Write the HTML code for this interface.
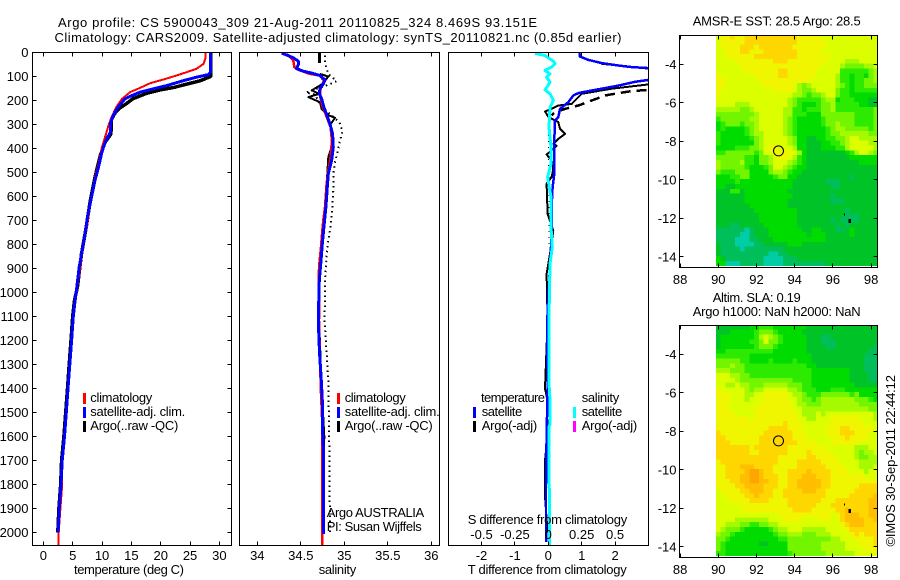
<!DOCTYPE html>
<html lang="en">
<head>
<meta charset="utf-8">
<title>Argo profile CS 5900043_309</title>
<style>
html,body{margin:0;padding:0;background:#fff;}
svg{display:block;}
text{font-family:"Liberation Sans",sans-serif;font-size:13px;fill:#000;}
.crisp{shape-rendering:crispEdges;}
</style>
</head>
<body>
<svg id="chart" xmlns="http://www.w3.org/2000/svg" width="900" height="580" viewBox="0 0 900 580">
<defs>
<clipPath id="clip-temp"><rect x="32" y="52" width="200" height="494"/></clipPath>
<clipPath id="clip-sal"><rect x="239" y="52" width="201" height="494"/></clipPath>
<clipPath id="clip-diff"><rect x="448" y="52" width="201" height="494"/></clipPath>
<clipPath id="clip-sst"><rect x="679" y="35" width="199" height="232"/></clipPath>
<clipPath id="clip-sla"><rect x="679" y="325" width="199" height="232"/></clipPath>
</defs>

<g id="sst-map" clip-path="url(#clip-sst)"></g>
<g id="sla-map" clip-path="url(#clip-sla)"></g>
<g id="temp-series" clip-path="url(#clip-temp)"></g>
<g id="sal-series" clip-path="url(#clip-sal)"></g>
<g id="diff-series" clip-path="url(#clip-diff)"></g>
<g id="axes" class="crisp"></g>
<g id="tick-labels"></g>

<text x="58" y="27" textLength="479" lengthAdjust="spacing">Argo profile: CS 5900043_309 21-Aug-2011 20110825_324 8.469S 93.151E</text>
<text x="54.5" y="42" textLength="567" lengthAdjust="spacing">Climatology: CARS2009. Satellite-adjusted climatology: synTS_20110821.nc (0.85d earlier)</text>

<text x="74" y="574" textLength="110" lengthAdjust="spacing">temperature (deg C)</text>
<text x="318.7" y="574" textLength="37.5" lengthAdjust="spacing">salinity</text>
<text x="467.7" y="574" textLength="159" lengthAdjust="spacing">T difference from climatology</text>
<text x="467.7" y="524" textLength="159.5" lengthAdjust="spacing">S difference from climatology</text>

<g>
<rect class="crisp" x="83" y="393" width="3" height="11" fill="#ff0000"/>
<rect class="crisp" x="83" y="407" width="3" height="11" fill="#0000ff"/>
<rect class="crisp" x="83" y="421" width="3" height="11" fill="#000"/>
<text x="90.3" y="402" textLength="62" lengthAdjust="spacing">climatology</text>
<text x="90.3" y="416" textLength="95" lengthAdjust="spacing">satellite-adj. clim.</text>
<text x="90.3" y="430" textLength="88" lengthAdjust="spacing">Argo(..raw -QC)</text>
</g>

<g>
<rect class="crisp" x="337" y="393" width="3" height="11" fill="#ff0000"/>
<rect class="crisp" x="337" y="407" width="3" height="11" fill="#0000ff"/>
<rect class="crisp" x="337" y="421" width="3" height="11" fill="#000"/>
<text x="344.7" y="402" textLength="61" lengthAdjust="spacing">climatology</text>
<text x="344.7" y="416" textLength="95" lengthAdjust="spacing">satellite-adj. clim.</text>
<text x="344.7" y="430" textLength="88" lengthAdjust="spacing">Argo(..raw -QC)</text>
</g>

<text x="326.7" y="517" textLength="97.5" lengthAdjust="spacing">Argo AUSTRALIA</text>
<text x="326.7" y="531" textLength="95" lengthAdjust="spacing">PI: Susan Wijffels</text>

<g>
<rect class="crisp" x="473" y="407" width="3" height="11" fill="#0000ff"/>
<rect class="crisp" x="473" y="421" width="3" height="11" fill="#000"/>
<rect class="crisp" x="573" y="407" width="3" height="11" fill="#00ffff"/>
<rect class="crisp" x="573" y="421" width="3" height="11" fill="#ff00ff"/>
<text x="481" y="402" textLength="64" lengthAdjust="spacing">temperature</text>
<text x="481.7" y="416" textLength="40.5" lengthAdjust="spacing">satellite</text>
<text x="481.7" y="430" textLength="55.5" lengthAdjust="spacing">Argo(-adj)</text>
<text x="581.7" y="402" textLength="37.5" lengthAdjust="spacing">salinity</text>
<text x="581.7" y="416" textLength="40.5" lengthAdjust="spacing">satellite</text>
<text x="581.7" y="430" textLength="55.5" lengthAdjust="spacing">Argo(-adj)</text>
</g>

<text x="692.7" y="25.5" textLength="168" lengthAdjust="spacing">AMSR-E SST: 28.5 Argo: 28.5</text>
<text x="712.7" y="302" textLength="88" lengthAdjust="spacing">Altim. SLA: 0.19</text>
<text x="692.7" y="316" textLength="168" lengthAdjust="spacing">Argo h1000: NaN h2000: NaN</text>
<text transform="translate(895 546.5) rotate(-90)" x="0" y="0" textLength="171.5" lengthAdjust="spacing">©IMOS 30-Sep-2011 22:44:12</text>
</svg>

<script>
// ---- axis ticks and labels ----
const depthTicks = [0,100,200,300,400,500,600,700,800,900,1000,1100,1200,1300,1400,1500,1600,1700,1800,1900,2000];
const tempTicks = [0,5,10,15,20,25,30];
const salinityTicks = [34,34.5,35,35.5,36];
const salinityTickLabels = ['34','34.5','35','35.5','36'];
const tDiffTicks = [-2,-1,0,1,2];
const sDiffTicks = [-0.5,-0.25,0,0.25,0.5];
const sDiffTickLabels = ['-0.5','-0.25','0','0.25','0.5'];
const lonTicks = [88,90,92,94,96,98];
const latTicks = [-4,-6,-8,-10,-12,-14];

// ---- temperature profiles (deg C vs depth m) ----
const tempClimDepth = [0,26,47,68,82,96,112,128,147,165,193,225,269,304,353,401,464,519,617,728,839,978,1033,1100,1200,1300,1400,1500,1600,1700,1800,1900,2000,2054];
const tempClimValue = [27.6,27.6,27.3,26.1,24.4,22.7,20.5,18.2,16.5,14.8,13.4,12.5,11.6,11.1,10.5,9.9,9.4,8.8,8.1,7.4,6.6,5.8,5.5,5.1,4.8,4.5,4.2,3.9,3.6,3.2,3.2,2.9,2.6,2.6];
const tempSatDepth = [0,82,92,103,117,138,151,165,179,193,225,263,297,332,374,422,478,533,603,686,756,839,894,978,1033,1100,1200,1300,1400,1500,1600,1700,1800,1900,2000];
const tempSatValue = [28.5,28.5,28.1,26.1,23.9,21,18.8,16.5,15.1,13.9,12.8,11.9,11.4,11.4,10.5,9.9,9.4,8.8,8.2,7.5,7.1,6.5,6.1,5.7,5.4,5.1,4.8,4.5,4.2,3.9,3.6,3.2,3,2.7,2.5];
const tempArgoDepth = [0,100,118,132,146,156,170,192,212,230,252,278,340,374,429,519,617,728,839,978,1033,1100,1200,1300,1400,1500,1600,1700,1800,1900,2000];
const tempArgoValue = [28.5,28.5,26.7,24.4,22.2,19.9,17.6,15.3,14.2,13.1,12.2,11.6,11.5,10.5,9.7,8.8,8,7.3,6.5,5.8,5.3,5,4.7,4.4,4.1,3.8,3.5,3.1,2.95,2.65,2.45];

// ---- salinity profiles (psu vs depth m) ----
const salClimDepth = [6,33,61,72,89,96,117,151,179,221,276,311,367,436,492,547,644,700,742,811,881,936,992,1117,1400,1547,2054];
const salClimValue = [34.337,34.414,34.425,34.471,34.605,34.72,34.766,34.728,34.72,34.747,34.805,34.843,34.858,34.843,34.816,34.797,34.778,34.759,34.747,34.732,34.713,34.705,34.713,34.709,34.73,34.747,34.747];
const salSatDepth = [3,13,22,36,50,67,78,86,96,114,131,151,172,193,228,258,297,339,394,450,506,561,644,728,783,867,950,1061,1117,1250,1367,1450,1547,1644,2006];
const salSatValue = [34.28,34.356,34.414,34.471,34.471,34.452,34.529,34.625,34.72,34.778,34.759,34.72,34.713,34.739,34.766,34.797,34.835,34.866,34.874,34.854,34.816,34.805,34.789,34.766,34.751,34.732,34.713,34.705,34.701,34.715,34.736,34.747,34.747,34.759,34.759];
const salArgoTopDepth = [3,44];
const salArgoTopValue = [34.713,34.713];
const salArgoDepth = [89,100,117,133,158,172,186,207,235,258,272,304,346,394,436,506,617,728,839,922,1061,1400,1600,1700,2000];
const salArgoValue = [34.72,34.816,34.778,34.739,34.625,34.713,34.586,34.72,34.739,34.797,34.893,34.835,34.866,34.854,34.816,34.805,34.789,34.759,34.732,34.713,34.705,34.74,34.77,34.765,34.755];
const salRawDepth = [13,44,89,119,133,167,175,228,256,290,328,367,401,457,506,575,644,714,783,853,922,1006,1117,1367,1644,1950,2006];
const salRawValue = [34.778,34.778,34.816,34.912,34.828,34.559,34.663,34.739,34.835,34.943,34.981,34.95,34.931,34.893,34.874,34.874,34.862,34.847,34.816,34.797,34.782,34.778,34.774,34.816,34.828,34.835,34.835];

// ---- difference profiles vs depth m ----
const diffTSatDepth = [3,17,31,44,54,61,65,78,103,114,122,138,151,161,169,179,207,235,269,283,367,436,506,561,644,728,811,894,1006,1117,1400,1600,1800,2000,2040];
const diffTSatValue = [0.93,0.95,1.2,1.6,2.1,2.5,3,3.9,3.9,3,2.6,2.1,1.6,1.2,0.9,0.75,0.6,0.35,0.3,0.2,0.18,0.18,0.18,0.13,0.1,0.1,0.08,0.05,0,-0.03,-0.02,-0.05,-0.07,-0.07,-0.07];
const diffTArgoTopDepth = [47,67];
const diffTArgoTopValue = [1.6,3];
const diffTArgoDepth = [120,133,151,172,214,221,235,246,267,276,290,318,339,360,381,388,408,425,450,485,519,547,672,742,839,922,1117,1400,1500,1700,1850,2000];
const diffTArgoValue = [3.9,3,1.9,1,0.7,0.3,0.1,-0.1,0,0.1,0.3,0.35,0.5,0.3,0.15,0.25,0.1,-0.05,0.1,0.15,0.1,-0.05,-0.02,0.15,0.05,-0.05,-0.02,-0.1,0.05,-0.1,-0.1,-0.02];
const diffTRawDepth = [151,156,161,169,179,200,221,235,249,262];
const diffTRawValue = [3.9,3,2.5,2.1,1.7,1.3,0.9,0.5,0.2,0.1];
const diffSRawDepth = [269,811];
const diffSRawValue = [0.01,0.02];
const diffSSatDepth = [3,13,36,47,61,75,89,103,124,156,172,200,228,311,394,464,519,603,728,811,881,1006,1117,1380,1450,1547,1560,2054];
const diffSSatValue = [-0.1,-0.025,0.0375,0.05,0.025,-0.025,0.0125,-0.0125,0.0125,-0.025,0.0125,0.0375,0.0125,0.005,0.02,0.02,-0.005,0.02,0.02,0.03,0.0125,0.008,0.005,0.005,0.0125,0.0125,0.006,0.008];

// ---- map data: colour level for each 0.25 degree cell, north to south ----
const argoLon = 93.151;
const argoLat = -8.469;
const islandLon = [96.6,96.88];
const islandLat = [-11.8,-12.15];
const sstLevels = [
[7,8,8,9,8,8,9,9,9,9,9,9,9,9,9,9,9,8,8,8,8,8,7,7,7,7,7,7,7,7,7,7,7,7],
[7,8,8,8,8,8,9,9,9,9,9,9,9,9,9,9,9,8,8,8,8,8,8,7,7,7,7,7,7,7,7,7,7,7],
[7,8,8,8,8,9,9,9,8,9,9,9,9,9,9,9,8,8,8,8,8,8,8,7,7,7,7,7,7,7,7,7,7,7],
[7,7,8,8,8,9,9,8,8,8,9,9,9,9,9,9,9,8,8,8,8,8,7,7,7,7,7,7,7,7,7,7,7,7],
[7,7,8,8,8,8,8,8,9,9,9,9,9,9,9,9,9,8,8,8,8,8,8,8,7,7,7,7,7,7,7,7,7,7],
[7,7,7,7,8,8,8,8,8,8,8,8,9,9,9,8,8,8,8,8,8,8,8,7,7,7,7,6,6,6,7,7,7,7],
[7,7,7,7,7,8,8,8,8,8,8,8,8,8,8,8,8,8,8,8,8,8,7,7,7,7,6,5,5,5,5,6,6,7],
[7,7,7,7,7,7,8,8,8,8,8,8,8,9,9,8,8,8,8,8,8,7,7,7,7,7,4,4,4,4,4,4,5,6],
[8,7,7,7,7,7,7,7,8,8,8,8,8,9,9,8,8,8,8,8,8,7,7,7,7,6,4,4,3,4,4,3,5,6],
[8,8,7,7,7,7,7,7,7,8,8,8,8,8,8,8,8,8,8,8,7,7,7,7,7,6,4,4,3,4,4,5,5,6],
[8,8,7,7,7,7,7,7,7,7,8,8,8,8,8,8,7,6,5,6,7,7,7,7,7,6,5,4,3,4,4,5,5,5],
[8,7,7,7,7,7,7,7,7,7,7,7,8,8,8,8,7,6,5,5,6,7,7,7,7,5,4,4,3,4,4,4,4,4],
[8,7,7,7,7,7,7,7,7,7,7,7,7,7,7,7,6,6,5,4,5,5,6,7,7,5,4,4,3,3,3,3,3,3],
[7,7,7,7,7,7,7,7,7,7,7,7,7,7,7,6,5,4,4,4,4,4,5,6,6,3,4,4,4,3,3,3,2,2],
[7,7,7,7,6,6,6,7,7,7,7,7,7,7,7,6,5,4,3,3,3,4,5,5,6,4,4,4,4,4,3,3,2,2],
[6,6,6,6,6,5,5,6,7,7,7,7,7,7,6,6,4,4,3,4,4,4,5,5,6,4,4,4,4,4,4,4,4,5],
[5,5,5,5,5,5,5,5,6,7,7,7,7,7,6,6,4,4,4,3,3,3,5,5,5,5,5,5,5,4,4,4,4,5],
[4,5,5,5,5,5,5,6,6,7,7,7,7,7,6,5,4,3,3,3,3,3,4,5,5,5,5,5,5,4,4,4,4,5],
[3,4,5,5,5,4,5,5,6,7,7,7,7,7,6,5,4,3,3,3,3,3,4,5,5,6,5,5,5,4,4,4,4,5],
[3,4,3,3,3,3,4,5,6,7,7,7,7,7,6,5,4,3,3,3,3,3,3,4,5,6,6,5,5,5,5,5,4,5],
[4,3,3,3,3,3,4,5,6,6,7,7,7,7,6,5,4,3,3,3,3,3,3,4,5,5,6,6,6,6,6,6,5,5],
[4,3,3,3,3,3,3,4,5,6,7,7,7,7,7,6,5,3,3,2,2,3,3,4,4,5,5,6,7,7,6,6,6,6],
[4,3,3,3,3,3,3,3,5,6,7,7,7,7,7,6,5,3,3,2,2,2,3,3,4,4,5,6,7,7,7,7,6,6],
[3,3,3,3,4,4,4,5,5,6,7,8,8,7,7,7,6,3,3,2,2,2,3,3,3,4,4,6,7,7,7,7,7,6],
[4,4,5,5,5,5,5,5,4,5,7,7,8,8,8,8,7,6,3,2,2,2,2,2,2,2,2,3,4,6,7,7,6,5],
[5,5,5,5,5,5,4,4,3,5,5,6,7,8,8,7,6,4,3,2,2,2,2,2,2,2,2,2,3,3,3,3,3,3],
[6,5,5,5,5,6,4,4,3,5,5,6,7,7,7,6,5,4,3,2,2,2,2,2,2,2,2,2,2,2,3,3,3,3],
[6,5,5,5,5,5,4,3,3,3,4,5,7,7,6,5,4,3,3,2,2,2,2,2,2,2,2,2,2,2,2,2,2,2],
[5,4,4,4,5,5,5,3,3,3,3,5,6,6,5,4,3,3,2,2,2,2,2,2,2,2,2,2,2,2,2,2,2,2],
[3,3,3,4,4,5,5,3,3,3,3,3,4,5,5,3,3,2,2,2,2,2,2,2,2,2,2,2,1,2,2,2,2,2],
[3,3,3,3,4,3,3,3,3,3,3,3,3,3,3,3,2,2,2,2,2,2,2,1,1,1,2,2,2,2,2,2,2,2],
[3,3,2,2,3,3,3,3,3,3,3,3,3,3,3,3,2,2,2,2,2,2,2,2,1,1,2,2,2,2,2,2,2,2],
[2,2,2,4,4,2,3,3,3,3,3,3,3,3,3,2,2,2,2,2,2,2,2,2,2,2,2,2,2,2,2,2,2,2],
[2,2,2,2,2,2,3,3,3,3,3,3,3,3,3,3,2,2,2,2,2,2,2,2,1,2,2,2,2,2,2,2,2,2],
[2,2,2,2,2,2,3,3,3,3,3,3,3,3,3,2,2,2,2,2,2,2,2,2,1,1,1,2,2,2,2,2,2,2],
[2,2,2,2,2,2,2,3,3,3,3,3,3,3,3,2,2,2,2,2,2,2,2,2,2,2,2,2,2,2,2,2,2,2],
[2,2,2,2,2,2,2,2,3,3,3,3,3,3,3,3,3,2,2,2,2,2,2,2,2,2,2,1,2,2,2,2,2,2],
[2,2,2,2,2,2,2,2,2,3,3,3,3,3,3,3,3,2,2,2,2,2,2,2,2,2,2,1,1,1,2,2,2,2],
[2,2,2,2,2,2,2,2,2,3,3,3,3,3,3,3,3,2,2,2,2,2,2,2,1,2,1,1,1,1,2,2,2,2],
[2,2,2,1,1,2,2,2,2,2,3,3,3,3,3,3,3,2,2,2,2,2,2,2,2,1,2,1,2,2,2,2,2,2],
[1,1,1,1,1,1,0,1,2,2,2,3,3,3,3,3,3,3,2,2,3,3,2,2,2,1,1,2,3,2,2,2,2,2],
[1,1,1,1,1,0,0,1,2,2,2,3,3,3,3,3,3,3,3,2,3,3,3,2,2,2,2,2,3,2,2,2,2,2],
[1,1,1,1,0,0,0,1,1,2,2,2,3,3,3,3,3,3,3,3,3,3,3,2,2,2,2,2,2,2,2,2,2,2],
[2,1,1,1,0,0,0,0,1,1,2,2,2,2,2,3,3,3,2,2,2,2,2,2,2,2,2,2,2,2,2,2,2,2],
[2,1,1,1,1,0,1,1,1,1,1,1,1,1,2,2,2,2,2,2,2,2,2,2,2,2,2,2,2,2,2,2,2,2],
[2,1,1,1,1,1,1,1,1,1,1,0,0,1,1,2,2,2,2,2,2,2,2,2,2,2,2,2,2,2,2,2,2,2],
[3,2,1,1,1,1,1,1,1,1,0,0,0,0,1,1,1,2,2,2,2,2,2,2,2,2,2,2,2,2,2,2,2,2],
[3,3,0,0,0,1,1,1,1,1,0,0,0,0,1,1,1,1,1,1,1,1,1,2,2,2,2,2,2,2,2,2,2,2]
];
const slaLevels = [
[2,2,2,2,2,2,2,3,3,4,4,4,3,3,3,3,3,3,3,2,2,2,2,2,2,2,2,2,2,2,2,2,2,2],
[2,2,2,3,3,3,3,3,4,5,5,5,4,3,3,3,3,3,2,2,2,2,2,2,2,2,2,2,2,2,2,2,2,2],
[2,3,3,3,3,3,3,3,4,6,7,6,5,4,3,3,3,3,3,2,2,2,1,1,2,2,2,2,2,2,2,2,2,2],
[2,3,3,3,3,3,3,4,4,5,7,5,5,4,3,3,3,3,3,2,2,2,1,1,1,2,2,2,2,2,2,2,2,2],
[2,3,3,3,3,3,3,3,4,5,5,5,4,3,3,3,3,3,3,2,2,2,2,1,1,2,2,2,2,2,2,2,2,1],
[3,3,4,4,4,4,4,4,4,4,4,4,3,3,3,3,3,3,3,2,2,2,2,2,2,2,2,2,2,2,2,2,1,1],
[4,4,4,4,4,4,4,3,3,3,3,3,3,3,3,3,3,3,3,3,2,2,2,2,2,2,2,2,2,2,2,1,1,1],
[5,5,5,5,5,4,4,3,3,3,3,4,3,3,3,3,4,3,3,3,2,2,2,2,2,2,2,2,2,2,2,1,1,1],
[5,5,5,6,5,5,4,4,4,4,4,4,4,4,4,4,4,4,4,3,3,2,2,2,2,2,2,2,2,2,2,1,1,1],
[6,6,6,5,5,5,4,4,4,4,4,4,4,4,4,4,4,4,4,4,3,3,3,3,3,3,3,3,2,2,2,1,1,1],
[7,7,7,6,6,5,5,4,4,4,4,4,4,4,4,4,4,4,4,4,3,3,3,3,3,3,3,3,2,2,2,2,1,1],
[7,7,7,7,6,5,5,5,5,5,5,5,5,5,5,5,4,4,4,4,3,3,3,3,3,3,3,3,2,2,2,2,1,1],
[7,7,6,6,7,6,6,5,5,5,6,6,6,6,6,5,5,5,4,4,3,3,3,3,3,3,3,3,3,2,2,2,2,2],
[8,7,7,7,7,7,6,5,6,6,7,7,7,7,7,6,6,5,4,4,4,3,3,3,4,4,4,3,3,3,3,3,3,3],
[8,8,8,7,7,7,6,6,7,7,8,8,8,8,8,7,6,6,5,4,4,4,5,5,5,5,5,5,4,5,3,3,3,3],
[8,8,8,7,7,7,6,7,7,7,8,8,8,8,8,7,7,6,5,5,4,5,6,6,6,6,6,6,6,5,5,5,4,3],
[8,8,8,7,7,7,7,7,7,8,8,8,8,8,8,8,7,6,6,5,5,5,6,6,6,6,6,6,6,6,5,5,5,5],
[8,8,8,7,7,7,7,7,8,8,8,8,8,8,8,8,7,7,6,6,6,6,6,6,6,6,6,6,6,6,6,6,5,5],
[8,8,8,8,7,7,7,7,8,8,8,8,8,8,8,8,8,7,6,6,6,7,6,7,7,7,7,7,7,7,7,7,7,6],
[8,8,8,8,8,8,8,7,8,8,8,8,8,8,8,8,8,7,7,6,6,7,7,7,8,8,8,8,8,8,7,7,7,6],
[8,8,8,8,8,8,8,8,8,8,8,8,8,8,9,8,8,8,7,7,7,7,7,7,8,8,8,8,8,8,8,7,7,7],
[8,8,8,8,8,8,8,8,8,8,8,9,9,9,9,8,8,8,7,7,7,7,7,8,8,8,9,9,8,8,8,8,8,7],
[9,8,8,8,8,8,8,8,8,8,9,9,9,9,9,9,8,8,8,7,7,7,7,8,8,8,9,9,9,8,8,8,7,7],
[9,9,8,8,8,8,8,8,8,9,9,9,9,9,9,9,8,8,8,7,7,7,7,7,8,8,8,9,8,8,8,8,7,7],
[9,9,9,8,8,8,8,8,8,9,9,9,9,9,9,9,9,8,8,8,8,7,7,7,8,8,8,8,8,8,7,7,7,7],
[9,9,9,9,9,9,9,8,9,9,9,9,9,9,9,8,8,8,8,8,8,8,8,7,7,7,7,7,7,6,6,6,7,7],
[9,9,9,9,9,9,9,8,8,9,9,9,9,9,9,8,8,8,8,9,8,8,8,8,7,7,7,7,7,6,5,6,6,7],
[9,9,9,9,9,9,9,9,9,9,9,9,9,8,8,8,8,8,8,9,9,8,8,8,8,7,7,7,7,6,5,5,6,6],
[8,9,9,9,9,9,9,9,9,9,9,9,9,8,8,8,8,9,9,9,9,9,8,8,8,8,7,7,7,7,6,6,6,6],
[8,8,9,9,9,10,10,10,9,9,9,9,8,8,8,8,8,9,9,9,9,9,9,8,8,8,8,7,7,7,6,6,6,7],
[8,8,9,9,9,9,10,11,11,10,9,9,8,8,8,9,9,9,9,10,9,9,9,9,8,8,8,8,7,7,7,6,7,7],
[8,8,9,9,9,10,10,11,11,10,9,9,9,8,8,9,9,9,10,10,10,9,9,9,8,8,8,8,8,8,8,7,7,7],
[8,8,8,9,9,10,10,11,11,10,10,9,9,8,8,9,9,10,10,10,10,10,9,9,8,8,8,8,8,8,8,8,8,8],
[8,8,8,8,9,9,10,10,10,10,9,9,9,8,8,9,9,10,10,10,10,10,9,9,8,8,8,8,8,8,9,9,9,9],
[7,8,8,8,8,9,9,10,10,10,9,9,8,8,9,9,9,9,10,10,10,9,9,8,8,8,8,8,8,9,9,9,9,9],
[7,7,8,8,8,8,9,9,10,9,9,9,8,8,9,9,9,9,9,9,9,9,9,8,8,8,8,8,9,9,9,9,9,10],
[7,7,7,8,8,8,8,9,9,9,9,8,8,8,8,9,9,9,9,9,9,9,8,8,8,9,9,9,9,9,9,9,10,10],
[7,7,7,7,7,8,8,8,8,8,8,8,8,8,8,9,9,9,9,9,9,8,8,8,9,9,9,9,9,9,9,9,10,10],
[7,7,7,7,7,7,8,8,8,8,8,8,8,8,8,8,9,9,9,9,8,8,8,8,8,9,9,10,9,9,9,9,10,10],
[7,7,7,7,7,7,7,7,7,7,7,7,7,8,8,8,8,8,8,8,8,8,8,8,7,8,9,10,10,10,9,9,10,10],
[7,7,7,7,6,6,6,6,6,6,6,7,7,7,8,8,8,8,7,7,7,7,8,8,7,7,9,10,10,10,10,9,9,10],
[7,7,6,6,6,5,5,4,4,5,5,6,6,7,7,7,7,7,7,7,7,7,7,7,7,7,8,9,10,10,10,9,9,9],
[7,6,5,5,5,4,3,3,3,3,3,4,5,6,6,7,7,7,6,6,6,6,6,7,7,7,7,8,9,9,9,9,9,9],
[6,5,5,4,3,3,3,3,3,3,3,3,4,5,5,6,6,6,5,5,5,6,6,6,7,7,7,7,8,9,8,9,9,9],
[5,5,4,3,3,3,3,3,3,3,3,3,3,4,4,5,5,5,5,5,5,5,5,5,6,6,7,7,7,8,8,8,8,9],
[5,4,3,3,3,3,3,3,3,2,2,3,3,3,3,5,5,5,5,5,5,5,6,6,6,6,6,7,7,7,8,8,8,9],
[5,4,3,3,3,3,3,3,3,3,3,3,3,3,3,5,5,5,5,5,5,5,6,6,6,6,6,7,7,7,7,8,8,8],
[4,4,3,3,3,3,3,3,3,3,3,3,3,3,3,4,5,5,5,5,5,5,5,6,6,6,6,6,6,7,7,7,7,8]
];
const levelColors = ['#00cda5','#00be5a','#00c328','#00dc00','#2deb00','#73f500','#a5fa00','#dcff00','#f0f500','#ffd700','#ffbe00','#ffa500'];

// ---- axis functions ----
const SVGNS = 'http://www.w3.org/2000/svg';
const yDepth = d => 52.5 + 0.24 * d;
const xTemp = t => 43.4 + 5.867 * t;
const xSal = s => 257.3 + 87 * (s - 34);
const xTDiff = v => 548.3 + 33.4 * v;
const xSDiff = v => 548.3 + 133.6 * v;
const xLon = lon => 718.3 + 19.1 * (lon - 90);
const ySstLat = lat => 64.3 + 19.25 * (-4 - lat);
const ySlaLat = lat => 354.3 + 19.25 * (-4 - lat);

function mk(tag, attrs, parent) {
  const el = document.createElementNS(SVGNS, tag);
  for (const k in attrs) el.setAttribute(k, attrs[k]);
  parent.appendChild(el);
  return el;
}

function drawProfile(parent, depths, values, xFn, color, width, dash, name) {
  const pts = depths.map((d, i) => xFn(values[i]).toFixed(1) + ',' + yDepth(d).toFixed(1)).join(' ');
  const el = mk('polyline', {points: pts, fill: 'none', stroke: color, 'stroke-width': width, 'stroke-dasharray': dash, 'shape-rendering': 'crispEdges', 'stroke-linejoin': 'round'}, parent);
  
  
}

function drawBox(parent, x0, y0, x1, y1, name) {
  const el = mk('rect', {x: x0, y: y0, width: x1 - x0, height: y1 - y0, fill: 'none', stroke: '#000', 'stroke-width': 1}, parent);
  
  
}

function drawTick(parent, x0, y0, x1, y1) {
  const el = mk('line', {x1: x0, y1: y0, x2: x1, y2: y1, stroke: '#000', 'stroke-width': 1}, parent);
  
  
}

function drawLabel(parent, x, y, anchor, str) {
  const el = mk('text', {x: x, y: y, 'text-anchor': anchor}, parent);
  el.textContent = str;
  
  
}

function drawMap(parent, levels, yFn, name) {
  levels.forEach((row, r) => {
    row.forEach((level, c) => {
      const x0 = xLon(89.875 + 0.25 * c);
      const x1 = xLon(89.875 + 0.25 * (c + 1));
      const y0 = yFn(-2.47 - 0.25 * r);
      const y1 = yFn(-2.47 - 0.25 * (r + 1));
      const el = mk('rect', {x: x0.toFixed(2), y: y0.toFixed(2), width: (x1 - x0).toFixed(2), height: (y1 - y0).toFixed(2), fill: levelColors[level], 'shape-rendering': 'crispEdges'}, parent);
      
      
    });
  });
  const mark = mk('circle', {cx: xLon(argoLon).toFixed(1), cy: (yFn(argoLat) + 0.6).toFixed(1), r: 5, fill: 'none', stroke: '#000', 'stroke-width': 1}, parent);
  
  
  islandLon.forEach((lon, i) => {
    const w = i === 0 ? 1 : 2.5;
    const h = i === 0 ? 2 : 4;
    const isl = mk('rect', {x: (xLon(lon) - w / 2).toFixed(1), y: (yFn(islandLat[i]) - h / 2).toFixed(1), width: w, height: h, fill: '#000', 'shape-rendering': 'crispEdges'}, parent);
    
    
  });
}

// ---- maps ----
drawMap(document.getElementById('sst-map'), sstLevels, ySstLat, 'sst-cell');
drawMap(document.getElementById('sla-map'), slaLevels, ySlaLat, 'sla-cell');

// ---- profile series ----
const gT = document.getElementById('temp-series');
drawProfile(gT, tempArgoDepth, tempArgoValue, xTemp, '#000', 3.5, 'none', 'temperature-argo-line');
drawProfile(gT, tempClimDepth, tempClimValue, xTemp, '#ff0000', 2, 'none', 'temperature-climatology-line');
drawProfile(gT, tempSatDepth, tempSatValue, xTemp, '#0000ff', 3, 'none', 'temperature-satellite-line');

const gS = document.getElementById('sal-series');
drawProfile(gS, salRawDepth, salRawValue, xSal, '#000', 2, '1.5 3.5', 'salinity-argo-raw-line');
drawProfile(gS, salArgoTopDepth, salArgoTopValue, xSal, '#000', 3, 'none', 'salinity-argo-near-surface-line');
drawProfile(gS, salArgoDepth, salArgoValue, xSal, '#000', 2, 'none', 'salinity-argo-line');
drawProfile(gS, salClimDepth, salClimValue, xSal, '#ff0000', 2.5, 'none', 'salinity-climatology-line');
drawProfile(gS, salSatDepth, salSatValue, xSal, '#0000ff', 3, 'none', 'salinity-satellite-line');

const gD = document.getElementById('diff-series');
drawProfile(gD, diffSRawDepth, diffSRawValue, xTDiff, '#000', 1, '1 5', 'salinity-difference-raw-line');
drawProfile(gD, diffTRawDepth, diffTRawValue, xTDiff, '#000', 2.5, '10 6', 'temperature-difference-raw-line');
drawProfile(gD, diffTArgoTopDepth, diffTArgoTopValue, xTDiff, '#000', 2, 'none', 'temperature-difference-argo-near-surface-line');
drawProfile(gD, diffTArgoDepth, diffTArgoValue, xTDiff, '#000', 2, 'none', 'temperature-difference-argo-line');
drawProfile(gD, diffTSatDepth, diffTSatValue, xTDiff, '#0000ff', 2.5, 'none', 'temperature-difference-satellite-line');
drawProfile(gD, diffSSatDepth, diffSSatValue, xSDiff, '#00ffff', 3, 'none', 'salinity-difference-satellite-line');

// ---- axes ----
const gA = document.getElementById('axes');
const gL = document.getElementById('tick-labels');
const top1 = 52.5, bot1 = 545.5, len = 4;

drawBox(gA, 32.5, top1, 231.5, bot1, 'temperature-panel-frame');
drawBox(gA, 239.5, top1, 439.5, bot1, 'salinity-panel-frame');
drawBox(gA, 448.5, top1, 648.5, bot1, 'difference-panel-frame');

depthTicks.forEach(d => {
  const y = Math.round(yDepth(d) - 0.5) + 0.5;
  drawTick(gA, 32.5, y, 32.5 + len, y);
  drawTick(gA, 231.5, y, 231.5 - len, y);
  drawLabel(gL, 28.5, yDepth(d) + 4.5, 'end', String(d));
});

function xTicks(values, labels, xFn, y0, y1, labelY) {
  values.forEach((v, i) => {
    const x = Math.round(xFn(v) - 0.5) + 0.5;
    drawTick(gA, x, y0, x, y0 + len);
    drawTick(gA, x, y1, x, y1 - len);
    drawLabel(gL, xFn(v), labelY, 'middle', labels[i]);
  });
}
xTicks(tempTicks, tempTicks.map(String), xTemp, top1, bot1, 560);
xTicks(salinityTicks, salinityTickLabels, xSal, top1, bot1, 560);
xTicks(tDiffTicks, tDiffTicks.map(String), xTDiff, top1, bot1, 560);
sDiffTicks.forEach((v, i) => {
  drawLabel(gL, xSDiff(v), 539, 'middle', sDiffTickLabels[i]);
});

function mapAxes(yFn, top, bot, labelY, name) {
  const left = 679.5, right = 877.5;
  drawBox(gA, left, top, right, bot, name);
  lonTicks.forEach(lon => {
    const x = Math.round(xLon(lon) - 0.5) + 0.5;
    drawTick(gA, x, top, x, top + len);
    drawTick(gA, x, bot, x, bot - len);
    drawLabel(gL, xLon(lon), labelY, 'middle', String(lon));
  });
  latTicks.forEach(lat => {
    const y = Math.round(yFn(lat) - 0.5) + 0.5;
    drawTick(gA, left, y, left + len, y);
    drawTick(gA, right, y, right - len, y);
    drawLabel(gL, 676.5, yFn(lat) + 4.5, 'end', String(lat));
  });
}
mapAxes(ySstLat, 35.5, 267.5, 284, 'sst-map-frame');
mapAxes(ySlaLat, 325.5, 557.5, 574, 'sla-map-frame');
</script>
</body>
</html>
